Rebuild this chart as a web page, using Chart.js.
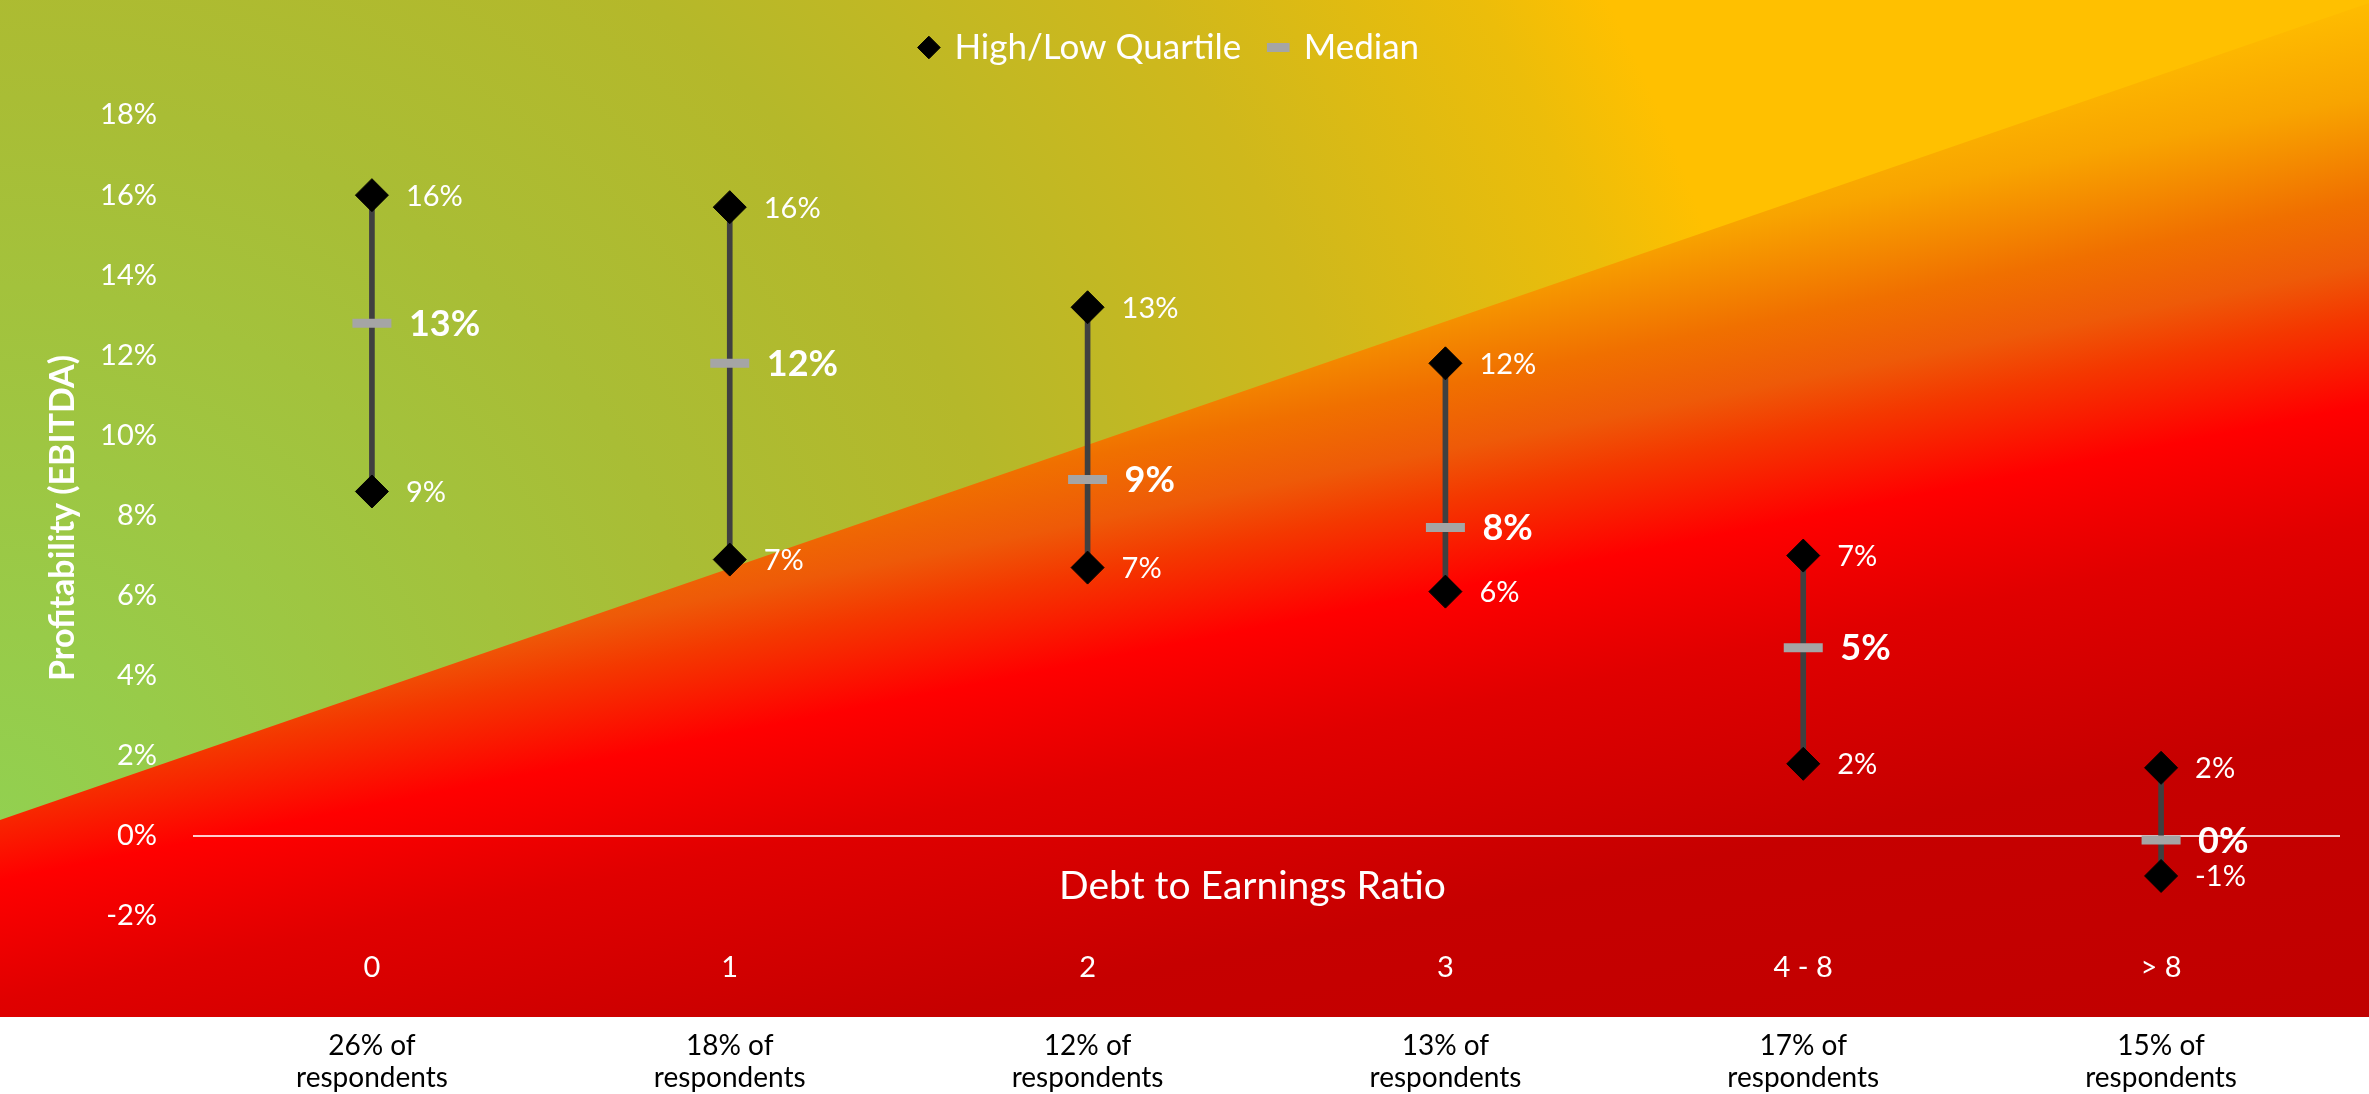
<!DOCTYPE html>
<html>
<head>
<meta charset="utf-8">
<title>Profitability vs Debt to Earnings Ratio</title>
<script src="https://cdn.jsdelivr.net/npm/chart.js@4.4.1/dist/chart.umd.min.js"></script>
<style>
  html, body { margin: 0; padding: 0; background: #fff; }
  #wrap { width: 2369px; height: 1094px; position: relative; }
</style>
</head>
<body>
<div id="wrap"><canvas id="chart"></canvas></div>
<script>
// categories (debt to earnings ratio) and share of respondents
const categories = ['0', '1', '2', '3', '4 - 8', '> 8'];
const respondentLabels = [
  ['26% of', 'respondents'],
  ['18% of', 'respondents'],
  ['12% of', 'respondents'],
  ['13% of', 'respondents'],
  ['17% of', 'respondents'],
  ['15% of', 'respondents']
];

// profitability (EBITDA) in %
const highQuartile = [16.0, 15.7, 13.2, 11.8, 7.0, 1.7];
const lowQuartile  = [8.6, 6.9, 6.7, 6.1, 1.8, -1.0];
const medianValues = [12.8, 11.8, 8.9, 7.7, 4.7, -0.1];

// y axis tick labels
const yTickValues = [-2, 0, 2, 4, 6, 8, 10, 12, 14, 16, 18];

const FONT = 'Lato, "Open Sans", sans-serif';

// floating bars for the high-low range
const rangeData = lowQuartile.map((lo, i) => [lo, highQuartile[i]]);

// background: green/yellow area with the red wedge under the diagonal
const backgroundPlugin = {
  id: 'bg',
  beforeDraw(chart) {
    const ctx = chart.ctx;
    const w = chart.width;
    const bgBottom = 1017;
    ctx.save();
    ctx.fillStyle = '#ffffff';
    ctx.fillRect(0, 0, w, chart.height);

    const g = ctx.createRadialGradient(0, 820, 0, 0, 820, 1900);
    g.addColorStop(0, '#92d050');
    g.addColorStop(0.38, '#a9bd35');
    g.addColorStop(0.55, '#b5b82a');
    g.addColorStop(0.74, '#cfb81c');
    g.addColorStop(0.89, '#ecbd0a');
    g.addColorStop(0.95, '#ffc000');
    g.addColorStop(1, '#ffc000');
    ctx.fillStyle = g;
    ctx.fillRect(0, 0, w, bgBottom);

    const r = ctx.createLinearGradient(90, 452, 287, 1433);
    const f = t => (t - 470) / 1020;
    r.addColorStop(0, '#ffbe00');
    r.addColorStop(f(572), '#f8a400');
    r.addColorStop(f(675), '#f07000');
    r.addColorStop(f(740), '#ee5a08');
    r.addColorStop(f(790), '#f43800');
    r.addColorStop(f(880), '#ff0000');
    r.addColorStop(f(1000), '#e00000');
    r.addColorStop(f(1200), '#c60000');
    r.addColorStop(1, '#c00000');
    ctx.beginPath();
    ctx.moveTo(0, 820);
    ctx.lineTo(w, 3);
    ctx.lineTo(w, bgBottom);
    ctx.lineTo(0, bgBottom);
    ctx.closePath();
    ctx.fillStyle = r;
    ctx.fill();
    ctx.restore();
  }
};

// value labels next to the markers + axis titles
const labelPlugin = {
  id: 'labels',
  afterDatasetsDraw(chart) {
    const ctx = chart.ctx;
    ctx.save();
    ctx.fillStyle = '#ffffff';
    ctx.textAlign = 'left';
    ctx.textBaseline = 'middle';
    chart.data.datasets.forEach((ds, di) => {
      if (!ds.valueLabel) return;
      const meta = chart.getDatasetMeta(di);
      ctx.font = ds.valueLabel.font;
      meta.data.forEach((pt, i) => {
        const v = Math.round(ds.data[i]) || 0;
        ctx.fillText(v + '%', pt.x + ds.valueLabel.offset, pt.y + 1);
      });
    });

    const area = chart.chartArea;
    ctx.textAlign = 'center';
    ctx.font = '39px ' + FONT;
    ctx.fillText('Debt to Earnings Ratio', (area.left + area.right) / 2 - 14, area.bottom - 30);

    // y axis title, a bit below the middle of the axis like the original
    ctx.save();
    ctx.translate(63, 518);
    ctx.rotate(-Math.PI / 2);
    ctx.font = 'bold 34px ' + FONT;
    ctx.fillText('Profitability (EBITDA)', 0, 0);
    ctx.restore();
    ctx.restore();
  }
};

const config = {
  type: 'line',
  data: {
    labels: categories,
    datasets: [
      {
        label: 'High/Low Quartile',
        data: highQuartile,
        showLine: false,
        pointStyle: 'rectRot',
        pointRadius: 16.5,
        pointBackgroundColor: '#000000',
        pointBorderColor: '#000000',
        pointBorderWidth: 1,
        order: 0,
        valueLabel: { font: '29px ' + FONT, offset: 34 }
      },
      {
        label: 'Low',
        data: lowQuartile,
        showLine: false,
        pointStyle: 'rectRot',
        pointRadius: 16.5,
        pointBackgroundColor: '#000000',
        pointBorderColor: '#000000',
        pointBorderWidth: 1,
        order: 0,
        valueLabel: { font: '29px ' + FONT, offset: 34 }
      },
      {
        label: 'Median',
        data: medianValues,
        showLine: false,
        pointStyle: 'line',
        pointRadius: 19.5,
        pointBackgroundColor: '#a5a5a5',
        pointBorderColor: '#a5a5a5',
        pointBorderWidth: 9,
        order: 1,
        valueLabel: { font: 'bold 36px ' + FONT, offset: 37 }
      },
      {
        type: 'bar',
        label: 'range',
        data: rangeData,
        backgroundColor: '#404040',
        barThickness: 5,
        order: 2
      }
    ]
  },
  options: {
    responsive: true,
    maintainAspectRatio: false,
    animation: false,
    events: [],
    layout: { padding: { top: 1, left: 0, right: 29, bottom: 0 } },
    plugins: {
      tooltip: { enabled: false },
      legend: {
        position: 'top',
        labels: {
          color: '#ffffff',
          font: { family: FONT, size: 35 },
          usePointStyle: true,
          boxWidth: 16,
          boxHeight: 16,
          padding: 29,
          filter: item => item.text === 'High/Low Quartile' || item.text === 'Median'
        }
      }
    },
    scales: {
      x: {
        type: 'category',
        offset: true,
        weight: 0,
        grid: { display: false, drawTicks: false },
        border: { display: false },
        ticks: {
          color: '#ffffff',
          font: { family: FONT, size: 29, lineHeight: 1.2 },
          padding: 34,
          maxRotation: 0
        },
        afterFit(scale) { scale.height = 71; }
      },
      x2: {
        type: 'category',
        position: 'bottom',
        labels: respondentLabels,
        offset: true,
        weight: 1,
        grid: { display: false, drawTicks: false },
        border: { display: false },
        ticks: {
          color: '#000000',
          font: { family: FONT, size: 28, lineHeight: 1.15 },
          padding: 43,
          maxRotation: 0
        },
        afterFit(scale) { scale.height = 107; }
      },
      y: {
        min: -2,
        max: 19,
        grid: {
          drawTicks: false,
          lineWidth: 2,
          color: ctx => (ctx.tick && ctx.tick.value === 0) ? 'rgba(255,255,255,0.8)' : 'rgba(0,0,0,0)'
        },
        border: { display: false },
        afterBuildTicks(scale) {
          scale.ticks = yTickValues.map(v => ({ value: v }));
        },
        ticks: {
          color: '#ffffff',
          font: { family: FONT, size: 29 },
          padding: 36,
          callback: v => v + '%'
        },
        afterFit(scale) { scale.width = 193; }
      }
    }
  },
  plugins: [backgroundPlugin, labelPlugin]
};

new Chart(document.getElementById('chart'), config);
</script>
</body>
</html>
